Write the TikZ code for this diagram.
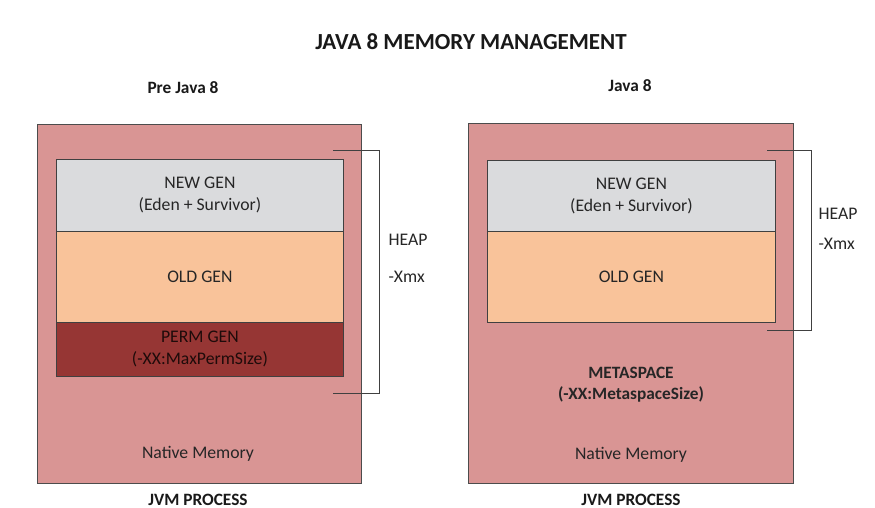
\documentclass[tikz,border=0pt]{standalone}
\usepackage{fontspec}
\setmainfont{Carlito}
\begin{document}
\begin{tikzpicture}[x=1pt,y=-1pt,
  outerbox/.style={draw=black!70, line width=0.8pt, fill=procfill},
  genbox/.style={draw=black!75, line width=0.8pt},
  lbl/.style={font=\fontsize{17.7}{22}\selectfont, text=black!85, align=center},
  hdr/.style={font=\bfseries\fontsize{17.3}{20}\selectfont, text=black!90},
  brk/.style={draw=black!75, line width=0.8pt}]
\definecolor{procfill}{HTML}{D99594}
\definecolor{newfill}{HTML}{DADBDD}
\definecolor{oldfill}{HTML}{F9C39A}
\definecolor{permfill}{HTML}{963634}
\useasboundingbox (0,0) rectangle (875,507);
\fill[white] (0,0) rectangle (875,507);

\node[font=\bfseries\fontsize{23}{26}\selectfont, text=black!90] (title) at (471,42) {JAVA 8 MEMORY MANAGEMENT};
\node[hdr] (pre) at (183,88) {Pre Java 8};
\node[hdr] (j8) at (630,86) {Java 8};

% Left: Pre Java 8
\path[outerbox] (37,124) rectangle (361,483);
\node[genbox, fill=newfill, minimum width=287, minimum height=72, anchor=north west] (lnew) at (56,159) {};
\node[genbox, fill=oldfill, minimum width=287, minimum height=91, anchor=north west] (lold) at (56,231) {};
\node[genbox, fill=permfill, minimum width=287, minimum height=54, anchor=north west] (lperm) at (56,322) {};
\node[lbl] at (lnew.center) {NEW GEN\\(Eden + Survivor)};
\node[lbl] at (lold.center) {OLD GEN};
\node[lbl, text=black!80!permfill] at (lperm.center) {PERM GEN\\(-XX:MaxPermSize)};
\node[lbl] (lnat) at (198,454) {Native Memory};
\node[hdr] (ljvm) at (198,500) {JVM PROCESS};
\coordinate (lb1) at (333,150);
\coordinate (lb2) at (379,150);
\coordinate (lb3) at (379,393);
\coordinate (lb4) at (333,393);
\draw[brk] (lb1) -- (lb2) -- (lb3) -- (lb4);
\node[lbl, anchor=west] (lheap) at (385,240) {HEAP};
\node[lbl, anchor=west] (lxmx) at (385,277) {-Xmx};

% Right: Java 8
\path[outerbox] (468,123) rectangle (793,483);
\node[genbox, fill=newfill, minimum width=288, minimum height=71, anchor=north west] (rnew) at (487,160) {};
\node[genbox, fill=oldfill, minimum width=288, minimum height=91, anchor=north west] (rold) at (487,231) {};
\node[lbl] at (rnew.center) {NEW GEN\\(Eden + Survivor)};
\node[lbl] at (rold.center) {OLD GEN};
\node[lbl, font=\bfseries\fontsize{17.3}{21}\selectfont] (meta) at (631,385) {METASPACE\\(-XX:MetaspaceSize)};
\node[lbl] (rnat) at (631,455) {Native Memory};
\node[hdr] (rjvm) at (631,500) {JVM PROCESS};
\coordinate (rb1) at (767,150);
\coordinate (rb2) at (811,150);
\coordinate (rb3) at (811,330);
\coordinate (rb4) at (767,330);
\draw[brk] (rb1) -- (rb2) -- (rb3) -- (rb4);
\node[lbl, anchor=west] (rheap) at (815,214) {HEAP};
\node[lbl, anchor=west] (rxmx) at (815,244) {-Xmx};
\end{tikzpicture}
\end{document}
